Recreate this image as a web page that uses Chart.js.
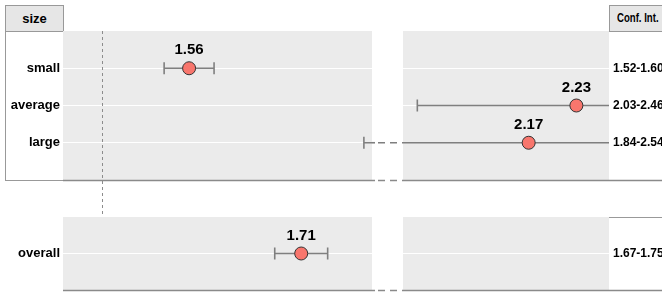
<!DOCTYPE html>
<html>
<head>
<meta charset="utf-8">
<script src="https://cdn.jsdelivr.net/npm/chart.js@4.4.1/dist/chart.umd.min.js"></script>
<style>
  body { margin: 0; background: #fff; }
  #wrap { position: relative; width: 662px; height: 293px; overflow: hidden; font-family: "Liberation Sans", Arial, sans-serif; }
  canvas { position: absolute; }
  .box { position: absolute; box-sizing: border-box; }
  .head { background: #e6e6e6; border: 1px solid #999; font-weight: bold; color: #000; }
  .narrow { display: inline-block; transform: scaleX(0.8); transform-origin: left center; white-space: nowrap; }
</style>
</head>
<body>
<div id="wrap">
  <div class="box head" style="left:5px;top:5px;width:59px;height:27px;line-height:25px;font-size:13px;text-align:center;">size</div>
  <div class="box" style="left:5px;top:31px;width:59px;height:150px;border:1px solid #999;"></div>
  <div class="box head" style="left:609px;top:5px;width:80px;height:27px;line-height:25px;padding-left:7px;font-size:12px;"><span class="narrow">Conf. Int.</span></div>
  <canvas id="tl" width="403" height="217" style="left:0;top:0"></canvas>
  <canvas id="tr" width="259" height="217" style="left:403px;top:0"></canvas>
  <canvas id="bl" width="403" height="76" style="left:0;top:217px"></canvas>
  <canvas id="br" width="259" height="76" style="left:403px;top:217px"></canvas>
</div>
<script>
const categories = ["small", "average", "large"];
const estimates = [1.56, 2.23, 2.17];
const lowerCI = [1.52, 2.03, 1.84];
const upperCI = [1.60, 2.46, 2.54];

const overallCategory = ["overall"];
const overallEstimate = [1.71];
const overallLower = [1.67];
const overallUpper = [1.75];

const refValue = 1.42;

// broken axis: each side of the break gets its own range
const leftTopRange = [1.358, 1.853];
const leftBottomRange = [1.350, 1.817];
const rightRange = [2.012, 2.271];

const fontFamily = '"Liberation Sans", Arial, sans-serif';
Chart.defaults.font.family = fontFamily;

const forestPlugin = {
  id: "forest",
  beforeDraw(chart, args, o) {
    const a = chart.chartArea;
    const ctx = chart.ctx;
    ctx.save();
    ctx.fillStyle = "#ebebeb";
    ctx.fillRect(a.left, a.top, a.right - a.left, a.bottom - a.top);
    ctx.restore();
  },
  beforeDatasetsDraw(chart, args, o) {
    const a = chart.chartArea;
    const ctx = chart.ctx;
    const x = chart.scales.x;
    const y = chart.scales.y;
    ctx.save();

    // reference line
    if (o.ref !== undefined) {
      const px = Math.round(x.getPixelForValue(o.ref)) + 0.5;
      ctx.strokeStyle = "#8c8c8c";
      ctx.lineWidth = 1;
      ctx.setLineDash([3, 3]);
      ctx.beginPath();
      ctx.moveTo(px, a.top);
      ctx.lineTo(px, chart.height);
      ctx.stroke();
      ctx.setLineDash([]);
    }

    // error bars
    ctx.strokeStyle = "#7f7f7f";
    ctx.lineWidth = 1.6;
    o.est.forEach((v, i) => {
      const lo = o.lo[i];
      const hi = o.hi[i];
      if (hi < x.min || lo > x.max) return;
      const py = y.getPixelForValue(i + 1);
      const x1 = x.getPixelForValue(Math.max(lo, x.min));
      const x2 = x.getPixelForValue(Math.min(hi, x.max));
      ctx.beginPath();
      ctx.moveTo(x1, py);
      ctx.lineTo(x2, py);
      if (lo >= x.min) { ctx.moveTo(x1, py - 6); ctx.lineTo(x1, py + 6); }
      if (hi <= x.max) { ctx.moveTo(x2, py - 6); ctx.lineTo(x2, py + 6); }
      ctx.stroke();
      if (o.side === "left" && hi > x.max) {
        ctx.beginPath();
        ctx.moveTo(a.right, py);
        ctx.lineTo(a.right + 3, py);
        ctx.stroke();
        ctx.setLineDash([7, 5]);
        ctx.beginPath();
        ctx.moveTo(a.right + 6, py);
        ctx.lineTo(chart.width, py);
        ctx.stroke();
        ctx.setLineDash([]);
      }
    });

    // bottom axis line
    const by = a.bottom + 0.5;
    ctx.strokeStyle = "#8a8a8a";
    ctx.lineWidth = 1.5;
    ctx.beginPath();
    if (o.side === "left") {
      ctx.moveTo(a.left, by);
      ctx.lineTo(a.right + 3, by);
      ctx.stroke();
      ctx.setLineDash([7, 5]);
      ctx.beginPath();
      ctx.moveTo(a.right + 6, by);
      ctx.lineTo(chart.width, by);
      ctx.stroke();
      ctx.setLineDash([]);
    } else {
      ctx.moveTo(a.left, by);
      ctx.lineTo(chart.width, by);
      ctx.stroke();
    }

    if (o.topRule) {
      ctx.strokeStyle = "#999";
      ctx.lineWidth = 1;
      ctx.beginPath();
      ctx.moveTo(a.right, 0.5);
      ctx.lineTo(chart.width, 0.5);
      ctx.stroke();
    }
    ctx.restore();
  },
  afterDatasetsDraw(chart, args, o) {
    const a = chart.chartArea;
    const ctx = chart.ctx;
    const x = chart.scales.x;
    const y = chart.scales.y;
    ctx.save();
    ctx.fillStyle = "#000";
    ctx.font = "bold 15px " + fontFamily;
    ctx.textAlign = "center";
    ctx.textBaseline = "alphabetic";
    o.est.forEach((v, i) => {
      if (v < x.min || v > x.max) return;
      ctx.fillText(v.toFixed(2), x.getPixelForValue(v), y.getPixelForValue(i + 1) - 14);
    });
    if (o.side === "right") {
      ctx.font = "bold 12px " + fontFamily;
      ctx.textAlign = "left";
      ctx.textBaseline = "middle";
      o.est.forEach((v, i) => {
        ctx.fillText(o.lo[i].toFixed(2) + "-" + o.hi[i].toFixed(2), a.right + 4, y.getPixelForValue(i + 1));
      });
    }
    ctx.restore();
  }
};

function makePanel(id, opts) {
  const labels = opts.labels;
  const points = opts.est
    .map((v, i) => ({ x: v, y: i + 1 }))
    .filter((p) => p.x >= opts.range[0] && p.x <= opts.range[1]);
  return new Chart(document.getElementById(id), {
    type: "scatter",
    data: {
      datasets: [
        {
          data: points,
          pointRadius: 6.5,
          pointHoverRadius: 6.5,
          pointBackgroundColor: "#f8766d",
          pointBorderColor: "#333333",
          pointBorderWidth: 1,
          clip: false,
        },
      ],
    },
    options: {
      responsive: false,
      animation: false,
      devicePixelRatio: 1,
      layout: { padding: opts.padding, autoPadding: false },
      plugins: {
        legend: { display: false },
        tooltip: { enabled: false },
        forest: {
          est: opts.est,
          lo: opts.lo,
          hi: opts.hi,
          side: opts.side,
          ref: opts.ref,
          topRule: opts.topRule,
        },
      },
      scales: {
        x: { type: "linear", min: opts.range[0], max: opts.range[1], display: false },
        y: {
          type: "linear",
          min: 0,
          max: labels.length + 1,
          reverse: true,
          afterBuildTicks: (s) => {
            s.ticks = labels.map((l, i) => ({ value: i + 1 }));
          },
          afterFit: (s) => {
            s.width = opts.side === "left" ? 58 : 0;
            s.paddingTop = 0;
            s.paddingBottom = 0;
          },
          grid: { color: "#ffffff", lineWidth: 1, drawTicks: false },
          border: { display: false },
          ticks: {
            display: opts.side === "left",
            padding: 3,
            color: "#000",
            font: { size: 13, weight: "bold" },
            callback: (v) => labels[v - 1],
          },
        },
      },
    },
    plugins: [forestPlugin],
  });
}

makePanel("tl", {
  labels: categories, est: estimates, lo: lowerCI, hi: upperCI,
  range: leftTopRange, side: "left", ref: refValue,
  padding: { left: 5, right: 31, top: 31, bottom: 37 },
});
makePanel("tr", {
  labels: categories, est: estimates, lo: lowerCI, hi: upperCI,
  range: rightRange, side: "right",
  padding: { left: 0, right: 53, top: 31, bottom: 37 },
});
makePanel("bl", {
  labels: overallCategory, est: overallEstimate, lo: overallLower, hi: overallUpper,
  range: leftBottomRange, side: "left",
  padding: { left: 5, right: 31, top: 0, bottom: 3 },
});
makePanel("br", {
  labels: overallCategory, est: overallEstimate, lo: overallLower, hi: overallUpper,
  range: rightRange, side: "right", topRule: true,
  padding: { left: 0, right: 53, top: 0, bottom: 3 },
});
</script>
</body>
</html>
